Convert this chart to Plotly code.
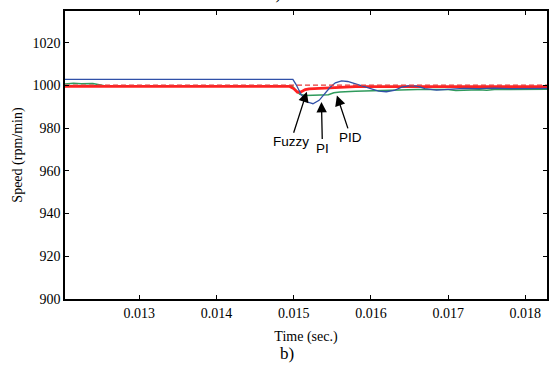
import plotly.graph_objects as go

# ---- data ----
t_pid = [0.01204, 0.01499, 0.01503, 0.01510, 0.01518, 0.01525, 0.01533, 0.01540, 0.01547,
         0.01554, 0.01562, 0.01570, 0.01580, 0.01590, 0.01600, 0.01610, 0.01620, 0.01630,
         0.01640, 0.01650, 0.01660, 0.01670, 0.01685, 0.01695, 0.01705, 0.01720, 0.01740,
         0.01760, 0.01780, 0.01800, 0.01828]
pid = [1002.8, 1002.8, 1000.5, 995.5, 992.2, 991.4, 993.0, 996.0, 999.0,
       1001.2, 1002.1, 1001.8, 1000.6, 999.5, 998.4, 997.3, 997.0, 997.6,
       999.2, 999.9, 999.6, 998.5, 997.8, 998.0, 998.5, 998.6, 998.5,
       998.7, 998.5, 998.6, 998.6]

t_fuzzy = [0.01204, 0.01495, 0.01500, 0.01505, 0.01510, 0.01515, 0.01520, 0.01530,
           0.01540, 0.01550, 0.01560, 0.01580, 0.01828]
fuzzy = [999.5, 999.5, 998.5, 996.8, 997.0, 998.0, 998.4, 998.6,
         998.8, 999.1, 999.3, 999.4, 999.4]

t_pi = [0.01204, 0.01215, 0.01225, 0.01240, 0.01255, 0.01498, 0.01502, 0.01508, 0.01515,
        0.01530, 0.01545, 0.01552, 0.01560, 0.01580, 0.01600, 0.01620, 0.01640, 0.01660,
        0.01680, 0.01700, 0.01710, 0.01720, 0.01730, 0.01740, 0.01750, 0.01760, 0.01780,
        0.01800, 0.01828]
pi = [1000.6, 1001.0, 1000.7, 1000.9, 999.8, 999.8, 998.0, 995.8, 995.3,
      995.4, 995.6, 996.5, 996.9, 997.2, 997.5, 997.8, 998.0, 998.1,
      998.1, 998.0, 997.6, 997.7, 998.0, 997.9, 997.7, 998.0, 998.1,
      998.2, 998.2]

t_ref = [0.01204, 0.01828]
ref = [1000.1, 1000.1]

x_ticks = [0.013, 0.014, 0.015, 0.016, 0.017, 0.018]
x_ticklabels = ["0.013", "0.014", "0.015", "0.016", "0.017", "0.018"]
y_ticks = [900, 920, 940, 960, 980, 1000, 1020]

serif = "Liberation Serif, Times New Roman, serif"
sans = "Liberation Sans, Arial, sans-serif"

fig = go.Figure()
fig.add_trace(go.Scatter(x=t_pi, y=pi, mode="lines", line=dict(color="#2f9a5c", width=1.5)))
fig.add_trace(go.Scatter(x=t_fuzzy, y=fuzzy, mode="lines", line=dict(color="#ff2222", width=2.8)))
fig.add_trace(go.Scatter(x=t_pid, y=pid, mode="lines", line=dict(color="#3050a8", width=1.3)))
fig.add_trace(go.Scatter(x=t_ref, y=ref, mode="lines",
                         line=dict(color="#e83838", width=1.2, dash="5px,3px")))

arrow = dict(showarrow=True, arrowhead=2, arrowsize=1.6, arrowwidth=1.3, arrowcolor="black",
             font=dict(family=sans, size=13.5, color="black"), xref="x", yref="y")
fig.add_annotation(x=0.01517, y=997.0, text="Fuzzy", ax=-16, ay=50, **arrow)
fig.add_annotation(x=0.01536, y=992.2, text="PI", ax=1, ay=46, **arrow)
fig.add_annotation(x=0.01556, y=995.3, text="PID", ax=14, ay=42, **arrow)

fig.add_annotation(x=0.46, y=-0.19, xref="paper", yref="paper", text="b)", showarrow=False,
                   font=dict(family=serif, size=17, color="black"), yanchor="middle")
fig.add_annotation(x=0.435, y=1.022, xref="paper", yref="paper", text="a)", showarrow=False,
                   font=dict(family=serif, size=17, color="black"), yanchor="bottom")

axis_common = dict(showline=True, linecolor="black", linewidth=1.5, mirror="ticks",
                   ticks="inside", ticklen=4, tickcolor="black", tickwidth=1,
                   showgrid=False, zeroline=False,
                   tickfont=dict(family=serif, size=14, color="black"))

fig.update_xaxes(range=[0.01204, 0.01828], tickvals=x_ticks, ticktext=x_ticklabels,
                 title=dict(text="Time (sec.)", font=dict(family=serif, size=14, color="black"),
                            standoff=12),
                 **axis_common)
fig.update_yaxes(range=[900, 1034.8], tickvals=y_ticks,
                 title=dict(text="Speed (rpm/min)", font=dict(family=serif, size=14, color="black"),
                            standoff=7),
                 **axis_common)

fig.update_layout(width=549, height=369, showlegend=False,
                  paper_bgcolor="white", plot_bgcolor="white",
                  margin=dict(l=65, r=1.5, t=10.5, b=70))

fig.write_html("out.html", config={"displayModeBar": False},
               post_script="document.body.style.margin='0';document.body.style.overflow='hidden';")
